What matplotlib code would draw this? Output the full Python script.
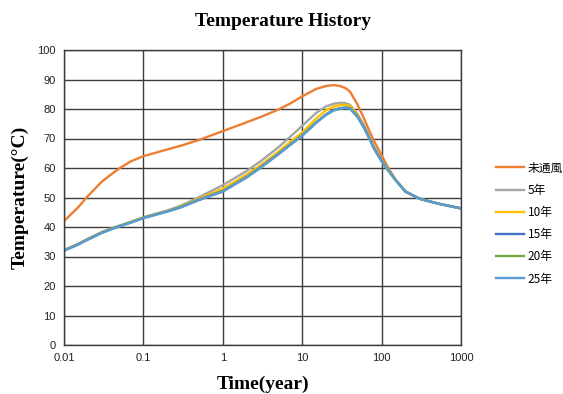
import matplotlib
matplotlib.use("Agg")
import matplotlib.pyplot as plt
from matplotlib.lines import Line2D

times = [0.01, 0.015, 0.02, 0.03, 0.04, 0.05, 0.07, 0.1, 0.2, 0.3, 0.5, 1, 2, 3, 5, 7,
         10, 15, 20, 25, 30, 35, 40, 50, 60, 70, 80, 100, 120, 150, 200, 300, 500, 1000]

no_vent = [42.0, 46.6, 50.5, 55.4, 58.0, 59.9, 62.3, 64.0, 66.3, 67.6, 69.5, 72.5, 75.5, 77.3, 79.8, 81.8,
           84.3, 86.8, 87.8, 88.1, 87.8, 87.1, 85.9, 81.4, 76.8, 72.6, 69.2, 64.3, 60.3, 56.0, 52.0, 49.6, 48.0, 46.3]
y5 = [32.2, 34.3, 36.0, 38.3, 39.6, 40.5, 41.8, 43.3, 45.6, 47.3, 50.1, 54.2, 59.0, 62.3, 67.0, 70.5,
      74.3, 78.7, 80.9, 81.8, 82.1, 82.0, 81.4, 78.2, 74.4, 70.7, 67.2, 62.8, 59.6, 56.0, 52.0, 49.6, 48.0, 46.3]
y10 = [32.1, 34.2, 35.9, 38.2, 39.5, 40.4, 41.7, 43.2, 45.4, 47.0, 49.6, 53.0, 57.8, 61.0, 65.5, 68.8,
       72.0, 76.8, 79.6, 80.8, 81.4, 81.4, 81.0, 77.8, 74.1, 70.4, 67.0, 62.6, 59.5, 56.0, 52.0, 49.6, 48.0, 46.3]
y15 = [32.0, 34.1, 35.8, 38.1, 39.4, 40.3, 41.6, 43.1, 45.3, 46.8, 49.3, 52.2, 57.0, 60.3, 64.8, 67.9,
       71.1, 75.5, 78.2, 79.7, 80.3, 80.5, 80.3, 77.4, 73.8, 70.2, 66.8, 62.4, 59.4, 55.9, 52.0, 49.6, 48.0, 46.3]
y20 = [32.0, 34.1, 35.8, 38.1, 39.4, 40.3, 41.6, 43.1, 45.3, 46.8, 49.2, 52.1, 56.9, 60.2, 64.7, 67.8,
       71.0, 75.4, 78.1, 79.6, 80.2, 80.4, 80.2, 77.3, 73.7, 70.1, 66.7, 62.3, 59.3, 55.9, 52.0, 49.6, 48.0, 46.3]
y25 = [32.0, 34.0, 35.7, 38.0, 39.3, 40.2, 41.5, 43.0, 45.2, 46.7, 49.1, 52.0, 56.8, 60.1, 64.6, 67.7,
       70.9, 75.3, 78.0, 79.5, 80.1, 80.3, 80.1, 77.2, 73.6, 70.0, 66.6, 62.3, 59.3, 55.9, 52.0, 49.6, 48.0, 46.3]

labels = ["未通風", "5年", "10年", "15年", "20年", "25年"]
series = [no_vent, y5, y10, y15, y20, y25]
colors = ["#ED7D31", "#A5A5A5", "#FFC000", "#4472C4", "#70AD47", "#5B9BD5"]

xticks = [0.01, 0.1, 1, 10, 100, 1000]
xticklabels = ["0.01", "0.1", "1", "10", "100", "1000"]
yticks = list(range(0, 101, 10))

fig = plt.figure(figsize=(5.63, 3.94), dpi=100)
ax = fig.add_axes([64/563, 1-345/394, (461-64)/563, (345-50)/394])

for s, c in zip(series, colors):
    ax.plot(times, s, color=c, lw=1.7, solid_capstyle="round", solid_joinstyle="round")

ax.set_xscale("log")
ax.set_xlim(0.01, 1000)
ax.set_ylim(0, 100)
ax.set_xticks(xticks)
ax.set_xticklabels(xticklabels)
ax.minorticks_off()
ax.set_yticks(yticks)
ax.tick_params(axis="both", length=0, labelsize=8, colors="#222222", pad=6)
for lab in ax.get_xticklabels() + ax.get_yticklabels():
    lab.set_family("Liberation Sans")
ax.grid(True, color="#3c3c3c", lw=1.0)
ax.set_axisbelow(True)
for sp in ax.spines.values():
    sp.set_color("#3c3c3c")
    sp.set_linewidth(1.0)

ax.set_xlabel("Time(year)", fontsize=14, fontweight="bold", family="Liberation Serif")
ax.xaxis.set_label_coords((263-64)/397, (345-384)/295)
ax.xaxis.label.set_va("center")
ax.set_ylabel("Temperature(\u00b0C)", fontsize=14, fontweight="bold", family="Liberation Serif")
ax.yaxis.set_label_coords((20-64)/397, 0.5)
ax.yaxis.label.set_va("center")
fig.text(283/563, 1-22/394, "Temperature History", ha="center", va="center",
         fontsize=14, fontweight="bold", family="Liberation Serif")

handles = [Line2D([0], [0], color=c, lw=1.7) for c in colors]
leg = fig.legend(handles, labels, loc="center left", bbox_to_anchor=(485/563, 1-223.5/394),
                 frameon=False, handlelength=2.4, handletextpad=0.3, labelspacing=0.78,
                 prop={"family": ["Noto Sans CJK SC", "DejaVu Sans"], "size": 8.5})

fig.savefig("out.png", dpi=100)
